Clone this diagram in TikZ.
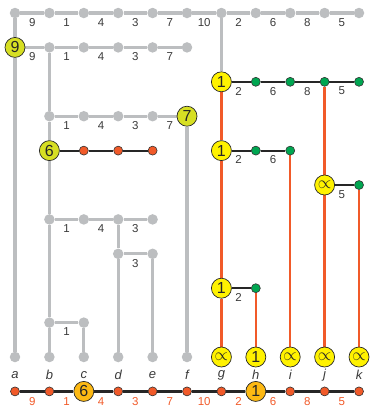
\documentclass[tikz,border=0pt]{standalone}
\usepackage{fontspec}
\setmainfont{Liberation Sans}
\usetikzlibrary{backgrounds}
\definecolor{lgray}{HTML}{BCBEC0}
\definecolor{yel}{HTML}{FFF200}
\definecolor{ygreen}{HTML}{D7DF23}
\definecolor{gold}{HTML}{FDB913}
\definecolor{orng}{HTML}{F15A29}
\definecolor{dgreen}{HTML}{00A651}
\definecolor{dtext}{HTML}{3A3A3A}
\tikzset{
 gd/.style={circle,fill=lgray,inner sep=0,minimum size=10.5pt},
 gnd/.style={circle,fill=dgreen,draw=black!80,line width=0.6pt,inner sep=0,minimum size=9pt},
 od/.style={circle,fill=orng,draw=black!80,line width=0.6pt,inner sep=0,minimum size=9pt},
 bigc/.style={circle,draw=black!85,line width=0.7pt,inner sep=0,minimum size=20pt,font=\fontsize{16}{16}\selectfont,text=black!85},
 yc/.style={bigc,fill=yel},
 ygc/.style={bigc,fill=ygreen},
 goldc/.style={bigc,fill=gold},
 gl/.style={draw=lgray,line width=3.3pt},
 bl/.style={draw=black!85,line width=2.2pt},
 ol/.style={draw=orng,line width=2.3pt},
 lab/.style={font=\fontsize{11.5}{12}\selectfont,text=dtext,inner sep=0},
 olab/.style={lab,text=orng},
 letl/.style={font=\fontsize{13}{13}\selectfont\itshape,text=dtext,inner sep=0}
}
\begin{document}
\begin{tikzpicture}[x=34.4pt,y=-34.4pt]
\useasboundingbox (-0.436,-0.378) rectangle (10.32,11.453);
% row 0
\foreach \i in {0,...,10} \node[gd] (t\i) at (\i,0) {};
\foreach \v [count=\i from 0] in {9,1,4,3,7,10,2,6,8,5} \node[lab] (tl\i) at (\i+0.5,0.27) {\v};
% row 1
\node[ygc] (n9) at (0,1) {9};
\foreach \i in {1,...,5} \node[gd] (r1-\i) at (\i,1) {};
\foreach \v [count=\i from 0] in {9,1,4,3,7} \node[lab] (l1-\i) at (\i+0.5,1.27) {\v};
% row 2
\node[yc] (g1a) at (6,2) {1};
\foreach \i in {7,...,10} \node[gnd] (r2-\i) at (\i,2) {};
\foreach \v [count=\i from 6] in {2,6,8,5} \node[lab] (l2-\i) at (\i+0.5,2.27) {\v};
% row 3
\foreach \i in {1,...,4} \node[gd] (r3-\i) at (\i,3) {};
\node[ygc] (n7) at (5,3) {7};
\foreach \v [count=\i from 1] in {1,4,3,7} \node[lab] (l3-\i) at (\i+0.5,3.27) {\v};
% row 4
\node[ygc] (n6) at (1,4) {6};
\foreach \i in {2,3,4} \node[od] (r4-\i) at (\i,4) {};
\node[yc] (g1b) at (6,4) {1};
\foreach \i in {7,8} \node[gnd] (r4-\i) at (\i,4) {};
\foreach \v [count=\i from 6] in {2,6} \node[lab] (l4-\i) at (\i+0.5,4.27) {\v};
% row 5
\node[yc] (pj) at (9,5) {$\propto$};
\node[gnd] (r5-10) at (10,5) {};
\node[lab] (l5-9) at (9.5,5.27) {5};
% row 6
\foreach \i in {1,...,4} \node[gd] (r6-\i) at (\i,6) {};
\foreach \v [count=\i from 1] in {1,4,3} \node[lab] (l6-\i) at (\i+0.5,6.27) {\v};
% row 7
\foreach \i in {3,4} \node[gd] (r7-\i) at (\i,7) {};
\node[lab] (l7-3) at (3.5,7.27) {3};
% row 8
\node[yc] (g1c) at (6,8) {1};
\node[gnd] (r8-7) at (7,8) {};
\node[lab] (l8-6) at (6.5,8.27) {2};
% row 9
\foreach \i in {1,2} \node[gd] (r9-\i) at (\i,9) {};
\node[lab] (l9-1) at (1.5,9.27) {1};
% row 10
\foreach \i in {0,...,5} \node[gd] (b-\i) at (\i,10) {};
\foreach \i in {6,8,9,10} \node[yc] (b-\i) at (\i,10) {$\propto$};
\node[yc] (b-7) at (7,10) {1};
\foreach \v [count=\i from 0] in {a,b,c,d,e,f,g,h,i,j,k} \node[letl] (lt-\i) at (\i,10.52) {\v};
% row 11
\foreach \i in {0,1,3,4,5,6,8,9,10} \node[od] (f-\i) at (\i,11) {};
\node[goldc] (f-2) at (2,11) {6};
\node[goldc] (f-7) at (7,11) {1};
\foreach \v [count=\i from 0] in {9,1,4,3,7,10,2,6,8,5} \node[olab] (fl\i) at (\i+0.5,11.3) {\v};
\begin{pgfonlayer}{background}
% gray horizontals
\draw[gl] (t0)--(t1)--(t2)--(t3)--(t4)--(t5)--(t6)--(t7)--(t8)--(t9)--(t10);
\draw[gl] (n9)--(r1-1)--(r1-2)--(r1-3)--(r1-4)--(r1-5);
\draw[gl] (r3-1)--(r3-2)--(r3-3)--(r3-4)--(n7);
\draw[gl] (r6-1)--(r6-2)--(r6-3)--(r6-4);
\draw[gl] (r7-3)--(r7-4);
\draw[gl] (r9-1)--(r9-2);
% gray verticals
\draw[gl] (t0)--(n9)--(b-0);
\draw[gl] (r1-1)--(r3-1)--(n6)--(r6-1)--(r9-1)--(b-1);
\draw[gl] (r9-2)--(b-2);
\draw[gl] (r6-3)--(r7-3)--(b-3);
\draw[gl] (r7-4)--(b-4);
\draw[gl] (n7)--(b-5);
\draw[gl] (t6)--(g1a);
% black horizontals
\draw[bl] (g1a)--(r2-7)--(r2-8)--(r2-9)--(r2-10);
\draw[bl] (n6)--(r4-2)--(r4-3)--(r4-4);
\draw[bl] (g1b)--(r4-7)--(r4-8);
\draw[bl] (pj)--(r5-10);
\draw[bl] (g1c)--(r8-7);
\draw[bl] (f-0)--(f-1)--(f-2)--(f-3)--(f-4)--(f-5)--(f-6)--(f-7)--(f-8)--(f-9)--(f-10);
% orange verticals
\draw[ol] (g1a)--(g1b)--(g1c)--(b-6);
\draw[ol] (r8-7)--(b-7);
\draw[ol] (r4-8)--(b-8);
\draw[ol] (r2-9)--(pj)--(b-9);
\draw[ol] (r5-10)--(b-10);
\end{pgfonlayer}
\end{tikzpicture}
\end{document}
